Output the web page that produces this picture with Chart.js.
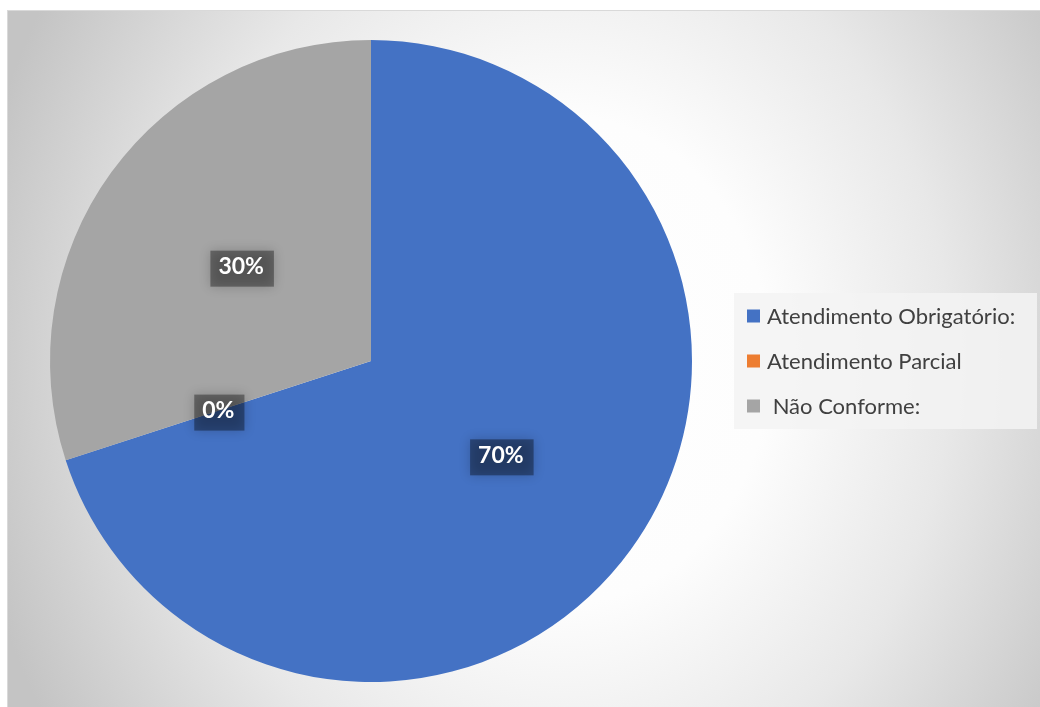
<!DOCTYPE html>
<html>
<head>
<meta charset="utf-8">
<script src="https://cdn.jsdelivr.net/npm/chart.js@4"></script>
<style>
  html, body { margin: 0; padding: 0; background: #ffffff; }
  #chart { display: block; }
</style>
</head>
<body>
<canvas id="chart" width="1040" height="707"></canvas>
<script>
// --- chart data ---
const categories = ['Atendimento Obrigatório:', 'Atendimento Parcial', ' Não Conforme:'];
const values = [70, 0, 30];
const percentLabels = ['70%', '0%', '30%'];
const sliceColors = ['#4472C4', '#ED7D31', '#A5A5A5'];

// gray elliptical radial background + frame
const backgroundPlugin = {
    id: 'officeBackground',
    beforeDraw(chart) {
        const ctx = chart.ctx;
        ctx.save();
        ctx.fillStyle = '#ffffff';
        ctx.fillRect(0, 0, chart.width, chart.height);

        const cx = 560, cy = 360, rx = 600, ry = 700;
        ctx.save();
        ctx.translate(cx, cy);
        ctx.scale(1, ry / rx);
        const grad = ctx.createRadialGradient(0, 0, 0, 0, 0, rx);
        grad.addColorStop(0, '#ffffff');
        grad.addColorStop(0.35, '#fdfdfd');
        grad.addColorStop(0.65, '#e8e8e8');
        grad.addColorStop(1, '#c4c4c4');
        ctx.fillStyle = grad;
        const k = rx / ry;
        ctx.fillRect(7 - cx, (10 - cy) * k, 1033, 697 * k);
        ctx.restore();

        ctx.strokeStyle = '#d9d9d9';
        ctx.lineWidth = 1;
        ctx.strokeRect(7.5, 10.5, 1033, 697);
        ctx.restore();
    }
};

// percentage labels in dark boxes with soft shadow
const dataLabelPlugin = {
    id: 'boxLabels',
    afterDatasetsDraw(chart) {
        const ctx = chart.ctx;
        const meta = chart.getDatasetMeta(0);
        ctx.save();
        ctx.font = 'bold 23px Lato';
        ctx.textAlign = 'center';
        ctx.textBaseline = 'middle';
        meta.data.forEach((arc, i) => {
            const pos = arc.tooltipPosition();
            const text = percentLabels[i];
            const w = ctx.measureText(text).width + 18;
            const h = 36;
            ctx.save();
            ctx.shadowColor = 'rgba(0,0,0,0.55)';
            ctx.shadowBlur = 12;
            ctx.fillStyle = 'rgba(0,0,0,0.36)';
            ctx.fillRect(pos.x - w / 2 + 1, pos.y - h / 2 + 2, w, h);
            ctx.restore();
            ctx.fillStyle = '#ffffff';
            ctx.fillText(text, pos.x, pos.y);
        });
        ctx.restore();
    }
};

// legend on the right, drawn from the data arrays
const legendPlugin = {
    id: 'sideLegend',
    afterDraw(chart) {
        const ctx = chart.ctx;
        ctx.save();
        ctx.fillStyle = 'rgba(243,243,243,0.85)';
        ctx.fillRect(734, 293, 303, 136);
        ctx.font = '22px Lato';
        ctx.textBaseline = 'middle';
        ctx.textAlign = 'left';
        categories.forEach((label, i) => {
            const y = 316 + i * 45;
            ctx.fillStyle = sliceColors[i];
            ctx.fillRect(747, y - 6.5, 13, 13);
            ctx.fillStyle = '#404040';
            ctx.fillText(label, 767, y + 1);
        });
        ctx.restore();
    }
};

new Chart(document.getElementById('chart'), {
    type: 'pie',
    data: {
        labels: categories,
        datasets: [{
            data: values,
            backgroundColor: sliceColors,
            borderWidth: 0
        }]
    },
    options: {
        responsive: false,
        animation: false,
        layout: {
            padding: { left: 50, right: 348, top: 40, bottom: 25 }
        },
        plugins: {
            legend: { display: false },
            tooltip: { enabled: false }
        }
    },
    plugins: [backgroundPlugin, dataLabelPlugin, legendPlugin]
});
</script>
</body>
</html>
